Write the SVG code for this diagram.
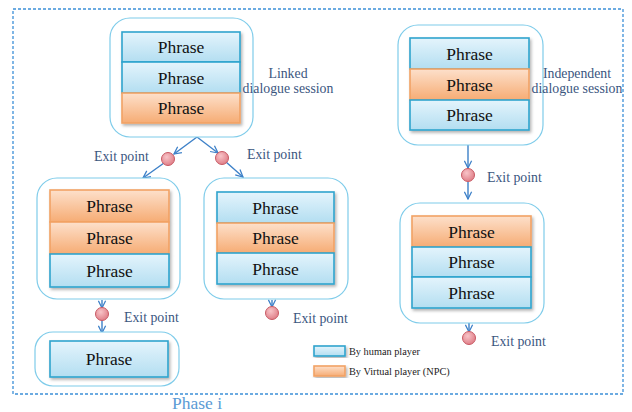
<svg xmlns="http://www.w3.org/2000/svg" width="632" height="412" viewBox="0 0 632 412">
<defs>
<linearGradient id="gb" x1="0" y1="0" x2="0" y2="1"><stop offset="0" stop-color="#E4F4FC"/><stop offset="1" stop-color="#B3DEF1"/></linearGradient>
<linearGradient id="go" x1="0" y1="0" x2="0" y2="1"><stop offset="0" stop-color="#FDE0CB"/><stop offset="1" stop-color="#F6AC74"/></linearGradient>
<radialGradient id="gc" cx="0.4" cy="0.35" r="0.7"><stop offset="0" stop-color="#F8C4C8"/><stop offset="1" stop-color="#DE7A84"/></radialGradient>
<filter id="sh" x="-10%" y="-10%" width="125%" height="130%"><feDropShadow dx="1.5" dy="2" stdDeviation="1.5" flood-color="#000" flood-opacity="0.3"/></filter>
<marker id="arr" viewBox="0 0 10 10" refX="9" refY="5" markerWidth="9" markerHeight="9" orient="auto" markerUnits="userSpaceOnUse"><path d="M1,1 L9,5 L1,9" fill="none" stroke="#3D80C8" stroke-width="1.4"/></marker>
</defs>
<style>
.frame{fill:none;stroke:#3C90D8;stroke-width:1.3;stroke-dasharray:3 2}
.cont{fill:#fff;stroke:#7FCCEA;stroke-width:1.2}
.hb{fill:url(#gb);stroke:#2FA4CE;stroke-width:1.6}
.nb{fill:url(#go);stroke:#F2A264;stroke-width:1.6}
.ph{font-family:"Liberation Serif","Times New Roman",serif;font-size:17.5px;fill:#111;text-anchor:middle}
.lbl{font-family:"Liberation Serif","Times New Roman",serif;font-size:13.8px;fill:#3B5680}
.leg{font-family:"Liberation Serif","Times New Roman",serif;font-size:10.3px;fill:#222}
.conn{fill:none;stroke:#3D80C8;stroke-width:1.4}
.ep{fill:url(#gc);stroke:#C85A64;stroke-width:1}
</style>
<rect class="frame" x="13" y="9" width="610" height="385"/>
<text x="172" y="408.5" style="font-family:'Liberation Serif','Times New Roman',serif;font-size:17.5px;fill:#5B9BD5">Phase i</text>

<g id="connectors">
<line class="conn" x1="197" y1="137" x2="174" y2="154" marker-end="url(#arr)"/>
<line class="conn" x1="164" y1="163" x2="143" y2="178" marker-end="url(#arr)"/>
<line class="conn" x1="197" y1="137" x2="218" y2="153" marker-end="url(#arr)"/>
<line class="conn" x1="226" y1="162" x2="243" y2="177" marker-end="url(#arr)"/>
<line class="conn" x1="468" y1="145" x2="468" y2="168" marker-end="url(#arr)"/>
<line class="conn" x1="468" y1="182" x2="468" y2="199" marker-end="url(#arr)"/>
<line class="conn" x1="102" y1="300" x2="102" y2="308" marker-end="url(#arr)"/>
<line class="conn" x1="102" y1="320" x2="102" y2="333" marker-end="url(#arr)"/>
<line class="conn" x1="272" y1="300" x2="272" y2="307" marker-end="url(#arr)"/>
<line class="conn" x1="469" y1="323" x2="469" y2="332" marker-end="url(#arr)"/>
</g>

<g id="linked-session">
<rect class="cont" x="110" y="18" width="143" height="119" rx="20"/>
<g filter="url(#sh)">
<rect class="hb" x="122" y="32" width="118" height="30"/>
<rect class="hb" x="122" y="62" width="118" height="31"/>
<rect class="nb" x="122" y="93" width="118" height="30"/>
</g>
<text class="ph" x="181" y="53">Phrase</text>
<text class="ph" x="181" y="84">Phrase</text>
<text class="ph" x="181" y="114">Phrase</text>
<text class="lbl" x="288" y="78" text-anchor="middle">Linked</text>
<text class="lbl" x="288" y="93" text-anchor="middle">dialogue session</text>
</g>

<g id="independent-session">
<rect class="cont" x="398" y="25" width="145" height="120" rx="20"/>
<g filter="url(#sh)">
<rect class="hb" x="410" y="38" width="119" height="31"/>
<rect class="nb" x="410" y="69" width="119" height="31"/>
<rect class="hb" x="410" y="100" width="119" height="30"/>
</g>
<text class="ph" x="469.5" y="59.5">Phrase</text>
<text class="ph" x="469.5" y="90.5">Phrase</text>
<text class="ph" x="469.5" y="121">Phrase</text>
<text class="lbl" x="577" y="78" text-anchor="middle">Independent</text>
<text class="lbl" x="577" y="93" text-anchor="middle">dialogue session</text>
</g>

<g id="session-left">
<rect class="cont" x="37" y="178" width="143" height="121" rx="20"/>
<g filter="url(#sh)">
<rect class="nb" x="50" y="190" width="119" height="32"/>
<rect class="nb" x="50" y="222" width="119" height="32"/>
<rect class="hb" x="50" y="254" width="119" height="33"/>
</g>
<text class="ph" x="109.5" y="212">Phrase</text>
<text class="ph" x="109.5" y="244">Phrase</text>
<text class="ph" x="109.5" y="276.5">Phrase</text>
</g>

<g id="session-mid">
<rect class="cont" x="204" y="178" width="144" height="121" rx="20"/>
<g filter="url(#sh)">
<rect class="hb" x="217" y="192" width="117" height="31"/>
<rect class="nb" x="217" y="223" width="117" height="30"/>
<rect class="hb" x="217" y="253" width="117" height="31"/>
</g>
<text class="ph" x="275.5" y="213.5">Phrase</text>
<text class="ph" x="275.5" y="244">Phrase</text>
<text class="ph" x="275.5" y="274.5">Phrase</text>
</g>

<g id="session-right">
<rect class="cont" x="400" y="203" width="144" height="120" rx="20"/>
<g filter="url(#sh)">
<rect class="nb" x="412" y="216" width="119" height="31"/>
<rect class="hb" x="412" y="247" width="119" height="30"/>
<rect class="hb" x="412" y="277" width="119" height="31"/>
</g>
<text class="ph" x="471.5" y="237.5">Phrase</text>
<text class="ph" x="471.5" y="268">Phrase</text>
<text class="ph" x="471.5" y="298.5">Phrase</text>
</g>

<g id="session-bottom">
<rect class="cont" x="35" y="332" width="144" height="54" rx="18"/>
<rect class="hb" x="50" y="341" width="118" height="36" filter="url(#sh)"/>
<text class="ph" x="109" y="365">Phrase</text>
</g>

<g id="exit-1"><circle class="ep" cx="168" cy="159" r="6.5"/><text class="lbl" x="94" y="161">Exit point</text></g>
<g id="exit-2"><circle class="ep" cx="222" cy="158" r="6.5"/><text class="lbl" x="247" y="159">Exit point</text></g>
<g id="exit-3"><circle class="ep" cx="468" cy="175" r="6.5"/><text class="lbl" x="487" y="182">Exit point</text></g>
<g id="exit-4"><circle class="ep" cx="102" cy="314" r="6.5"/><text class="lbl" x="124" y="322">Exit point</text></g>
<g id="exit-5"><circle class="ep" cx="272" cy="313" r="6.5"/><text class="lbl" x="293" y="323">Exit point</text></g>
<g id="exit-6"><circle class="ep" cx="469" cy="338" r="6.5"/><text class="lbl" x="491" y="346">Exit point</text></g>

<g id="legend">
<rect class="hb" x="314" y="346" width="31" height="10" filter="url(#sh)"/>
<text class="leg" x="349" y="354.5">By human player</text>
<rect class="nb" x="314" y="366" width="31" height="10" filter="url(#sh)"/>
<text class="leg" x="349" y="374.5">By Virtual player (NPC)</text>
</g>
</svg>
